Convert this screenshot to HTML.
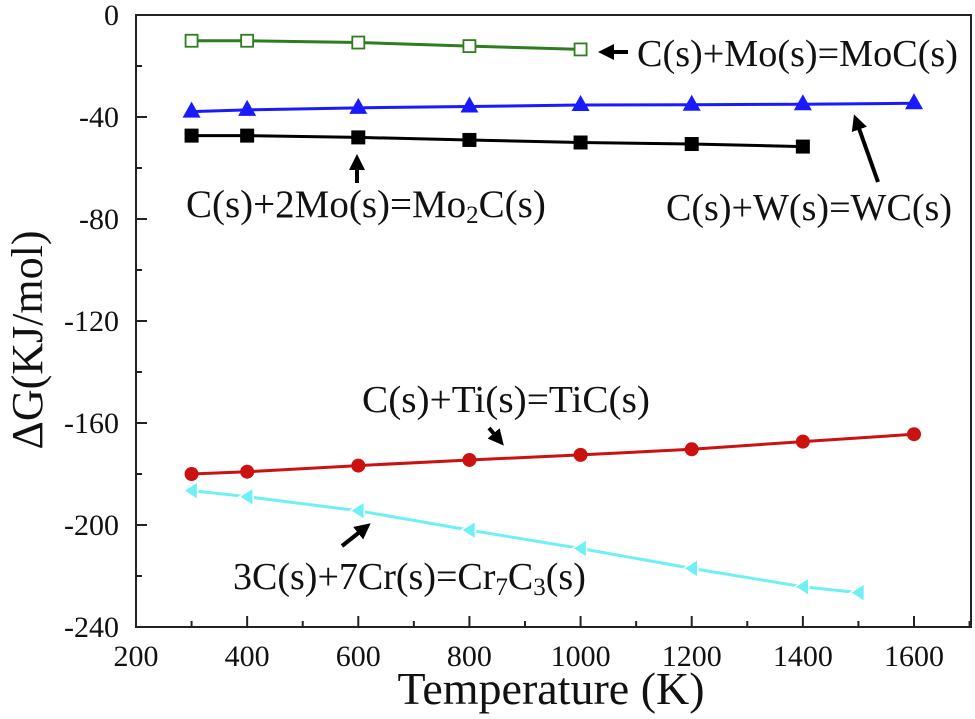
<!DOCTYPE html>
<html><head><meta charset="utf-8"><style>
html,body{margin:0;padding:0;background:#fff;}
svg{display:block;font-family:"Liberation Serif",serif;}
</style></head><body>
<svg id="chart" width="975" height="719" viewBox="0 0 975 719">
<defs><marker id="ah" markerWidth="4" markerHeight="4" refX="2.5" refY="2" orient="auto"><path d="M0,0 L4,2 L0,4 z" fill="#000"/></marker></defs>
<g id="axes"></g><g id="series"></g>
<g id="ann" font-size="38" fill="#111">
<text x="637" y="66" textLength="321" lengthAdjust="spacingAndGlyphs">C(s)+Mo(s)=MoC(s)</text>
<text x="666" y="220" textLength="286" lengthAdjust="spacingAndGlyphs">C(s)+W(s)=WC(s)</text>
<text x="186" y="217" font-size="39">C(s)+2Mo(s)=Mo<tspan font-size="25" dy="6">2</tspan><tspan dy="-6">C(s)</tspan></text>
<text x="362" y="412" textLength="288" lengthAdjust="spacingAndGlyphs">C(s)+Ti(s)=TiC(s)</text>
<text x="233" y="589">3C(s)+7Cr(s)=Cr<tspan font-size="25" dy="6">7</tspan><tspan dy="-6">C</tspan><tspan font-size="25" dy="6">3</tspan><tspan dy="-6">(s)</tspan></text>
<g stroke="#000" stroke-width="4" marker-end="url(#ah)">
<line x1="628" y1="52" x2="604" y2="52"/>
<line x1="878" y1="182" x2="856" y2="120"/>
<line x1="357" y1="183" x2="357" y2="160"/>
<line x1="489" y1="428" x2="500" y2="441"/>
<line x1="342" y1="546" x2="366" y2="527"/>
</g></g>
<text x="551" y="704" font-size="46" text-anchor="middle" fill="#111">Temperature (K)</text>
<text transform="translate(42,340) rotate(-90)" font-size="44" text-anchor="middle" fill="#111">ΔG(KJ/mol)</text>
</svg>
<script>
const xTicks=[200,400,600,800,1000,1200,1400,1600];
const yTicks=[0,-40,-80,-120,-160,-200,-240];
const tempsMoC=[300,400,600,800,1000];
const valsMoC=[-10.1,-10.1,-10.8,-12.2,-13.5];
const tempsWC=[300,400,600,800,1000,1200,1400,1600];
const valsWC=[-37.9,-37.2,-36.4,-35.9,-35.3,-35.2,-35.0,-34.6];
const tempsMo2C=[300,400,600,800,1000,1200,1400];
const valsMo2C=[-47.3,-47.3,-48.0,-49.0,-50.0,-50.6,-51.6];
const tempsTiC=[300,400,600,800,1000,1200,1400,1600];
const valsTiC=[-180,-179.1,-176.7,-174.5,-172.5,-170.3,-167.3,-164.4];
const tempsCr=[300,400,600,800,1000,1200,1400,1500];
const valsCr=[-186.5,-188.9,-194.4,-202,-209.2,-217,-224.2,-226.5];

const L=136,R=971,T=15,B=627;
const xs=t=>L+(t-200)/1400*(914-136);
const ys=v=>T+(0-v)/240*(B-T);
const NS="http://www.w3.org/2000/svg";
function mk(tag,attrs,parent){const e=document.createElementNS(NS,tag);for(const k in attrs)e.setAttribute(k,attrs[k]);parent.appendChild(e);return e;}
const ax=document.getElementById('axes');
const frame=mk('rect',{x:L,y:T,width:R-L,height:B-T,fill:'none',stroke:'#222','stroke-width':2},ax);


for(let t=200;t<=1700;t+=100){const x=xs(t);if(x>R)break;const major=t%200===0;
 const tk=mk('line',{x1:x,x2:x,y1:B,y2:B-(major?11:6),stroke:'#222','stroke-width':2},ax);
 
 }
xTicks.forEach(t=>{const tx=mk('text',{x:xs(t),y:B+39,'font-size':30,'text-anchor':'middle',fill:'#111'},ax);tx.textContent=t;
 
 });
for(let v=0;v>=-240;v-=20){const y=ys(v);const major=v%40===0;
 const tk=mk('line',{x1:L,x2:L+(major?11:6),y1:y,y2:y,stroke:'#222','stroke-width':2},ax);
 
 }
yTicks.forEach(v=>{const tx=mk('text',{x:L-17,y:ys(v)+10,'font-size':30,'text-anchor':'end',fill:'#111'},ax);tx.textContent=v;
 
 });

const sg=document.getElementById('series');
function series(name,ts,vs,color,marker){
 const g=mk('g',{},sg);
 
 
 const pl=mk('polyline',{points:ts.map((t,i)=>xs(t)+','+ys(vs[i])).join(' '),fill:'none',stroke:color,'stroke-width':3},g);
 
 
 ts.forEach((t,i)=>{const x=xs(t),y=ys(vs[i]);let m;
  if(marker==='osq')m=mk('rect',{x:x-6,y:y-6,width:12,height:12,fill:'#fff',stroke:color,'stroke-width':1.8},g);
  else if(marker==='sq')m=mk('rect',{x:x-7,y:y-7,width:14,height:14,fill:color},g);
  else if(marker==='tri')m=mk('polygon',{points:`${x},${y-10} ${x-9},${y+6} ${x+9},${y+6}`,fill:color},g);
  else if(marker==='circ')m=mk('circle',{cx:x,cy:y,r:7,fill:color},g);
  else m=mk('polygon',{points:`${x-8},${y} ${x+6},${y-9} ${x+6},${y+9}`,fill:color,stroke:'#fff','stroke-width':1.5},g);
  
  });
}
series('moc',tempsMoC,valsMoC,'#2e7d1e','osq');
series('wc',tempsWC,valsWC,'#1a1aff','tri');
series('mo2c',tempsMo2C,valsMo2C,'#000','sq');
series('tic',tempsTiC,valsTiC,'#cc1111','circ');
series('cr7c3',tempsCr,valsCr,'#6ff0f5','ltri');
</script>
</body></html>
